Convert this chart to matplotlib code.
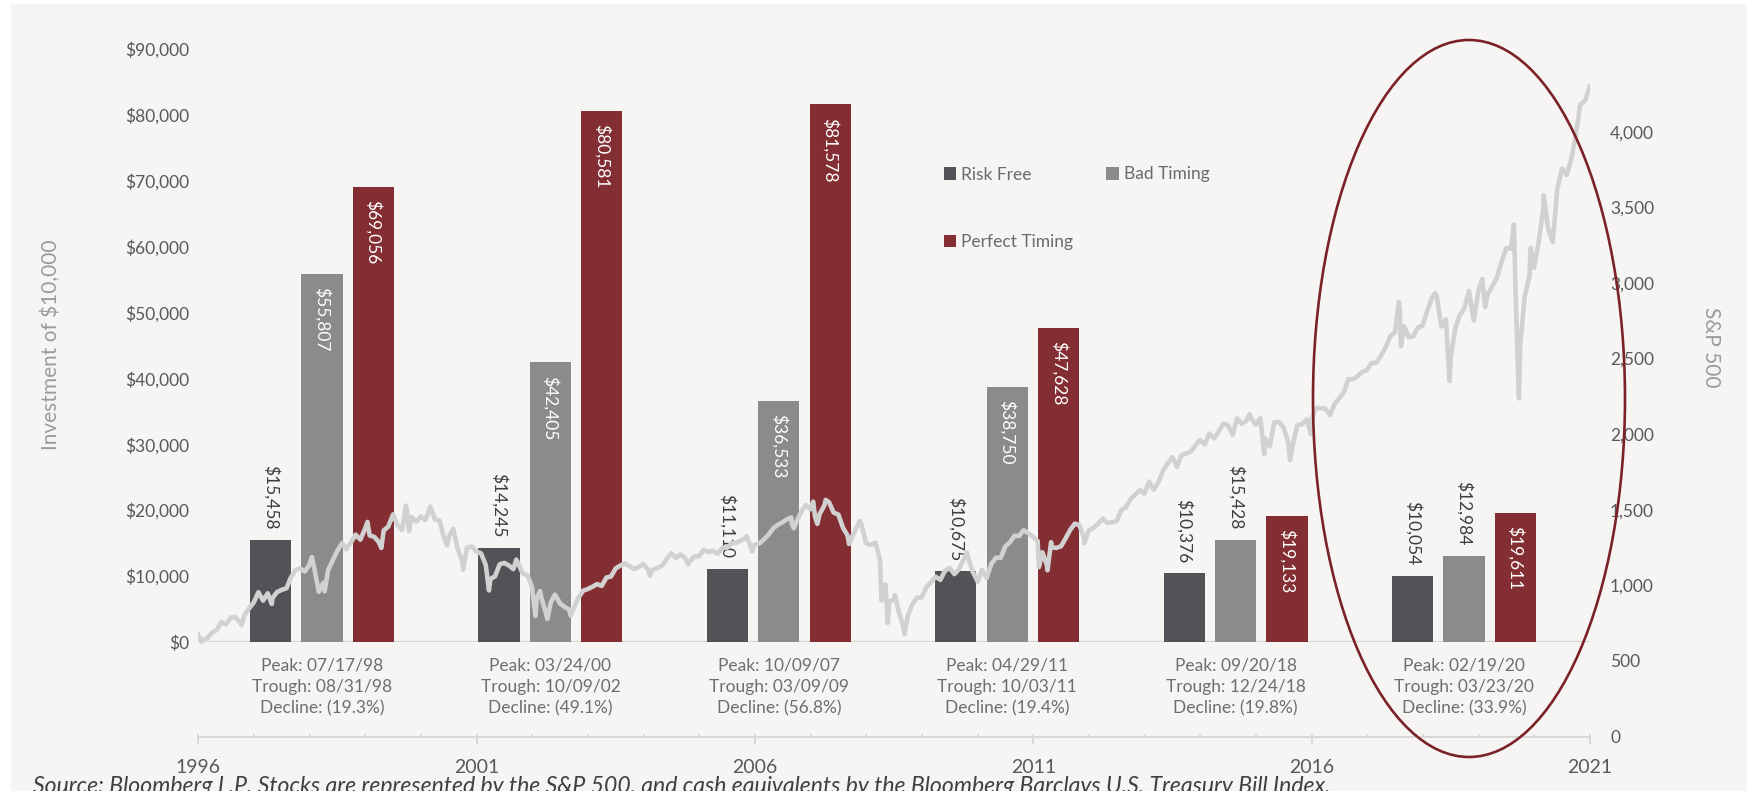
import matplotlib
matplotlib.use("Agg")
import matplotlib.pyplot as plt
import numpy as np
import pandas as pd
from matplotlib.patches import Rectangle, Ellipse, Patch
from matplotlib.ticker import FuncFormatter, FixedLocator

plt.rcParams['font.family'] = ['Lato', 'DejaVu Sans']

# ---------------- data ----------------
series_names = ["Risk Free", "Bad Timing", "Perfect Timing"]
risk_free = [15458, 14245, 11110, 10675, 10376, 10054]
bad_timing = [55807, 42405, 36533, 38750, 15428, 12984]
perfect_timing = [69056, 80581, 81578, 47628, 19133, 19611]
peaks = ["07/17/98", "03/24/00", "10/09/07", "04/29/11", "09/20/18", "02/19/20"]
troughs = ["08/31/98", "10/09/02", "03/09/09", "10/03/11", "12/24/18", "03/23/20"]
declines = ["19.3%", "49.1%", "56.8%", "19.4%", "19.8%", "33.9%"]
left_ticks = [0, 10000, 20000, 30000, 40000, 50000, 60000, 70000, 80000, 90000]
right_ticks = [0, 500, 1000, 1500, 2000, 2500, 3000, 3500, 4000]
year_labels = [1996, 2001, 2006, 2011, 2016, 2021]

# S&P 500 month-end closes, Jul 1996 - Jun 2021
sp_monthly = [
    640, 652, 687, 705, 757, 741,
    786, 791, 757, 801, 848, 885, 954, 899, 947, 915, 955, 970,
    980, 1049, 1102, 1112, 1091, 1134, 1121, 957, 1017, 1099, 1164, 1229,
    1280, 1238, 1286, 1335, 1302, 1373, 1329, 1320, 1283, 1363, 1389, 1469,
    1394, 1366, 1499, 1452, 1421, 1455, 1431, 1518, 1437, 1429, 1315, 1320,
    1366, 1240, 1160, 1249, 1256, 1224, 1211, 1134, 1041, 1060, 1139, 1148,
    1130, 1107, 1147, 1077, 1067, 990, 912, 916, 815, 886, 936, 880,
    856, 841, 848, 917, 964, 975, 990, 1008, 996, 1051, 1058, 1112,
    1131, 1145, 1126, 1107, 1121, 1141, 1102, 1104, 1115, 1130, 1174, 1212,
    1181, 1204, 1181, 1157, 1192, 1191, 1234, 1220, 1229, 1207, 1249, 1248,
    1280, 1281, 1295, 1311, 1270, 1270, 1277, 1304, 1336, 1378, 1401, 1418,
    1438, 1407, 1421, 1482, 1531, 1503, 1455, 1474, 1527, 1549, 1481, 1468,
    1379, 1331, 1323, 1386, 1400, 1280, 1267, 1283, 1165, 969, 896, 903,
    826, 735, 798, 873, 919, 919, 987, 1021, 1057, 1036, 1096, 1115,
    1074, 1104, 1169, 1187, 1089, 1031, 1102, 1049, 1141, 1183, 1181, 1258,
    1286, 1327, 1326, 1364, 1345, 1321, 1292, 1219, 1131, 1253, 1247, 1258,
    1312, 1366, 1408, 1398, 1310, 1362, 1379, 1407, 1441, 1412, 1416, 1426,
    1498, 1515, 1569, 1598, 1631, 1606, 1686, 1633, 1682, 1757, 1806, 1848,
    1783, 1859, 1872, 1884, 1924, 1960, 1931, 2003, 1972, 2018, 2068, 2059,
    1995, 2105, 2068, 2086, 2107, 2063, 2104, 1972, 1920, 2079, 2080, 2044,
    1940, 1932, 2060, 2065, 2097, 2099, 2174, 2171, 2168, 2126, 2199, 2239,
    2279, 2364, 2363, 2384, 2412, 2423, 2470, 2472, 2519, 2575, 2648, 2674,
    2824, 2714, 2641, 2648, 2705, 2718, 2816, 2902, 2914, 2712, 2760, 2507,
    2704, 2784, 2834, 2946, 2752, 2942, 2980, 2926, 2977, 3038, 3141, 3231,
    3226, 2954, 2585, 2912, 3044, 3100, 3271, 3500, 3363, 3270, 3622, 3756,
    3714, 3811, 3973, 4181, 4204, 4298,
]
sp_monthly_dates = pd.date_range("1996-07-31", periods=len(sp_monthly), freq="ME")

# intra-month highs/lows of the S&P 500
sp_extra_dates = [
    "1996-07-01", "1996-07-24", "1997-04-11", "1997-10-27", "1998-07-17", "1998-08-31",
    "1998-10-08", "1999-07-16", "1999-10-15", "2000-03-24", "2000-04-14", "2000-09-01",
    "2000-12-20", "2001-01-30", "2001-04-04", "2001-09-21", "2002-03-19", "2002-07-23",
    "2002-08-22", "2002-10-09", "2002-11-27", "2003-03-11", "2004-08-12", "2005-04-20",
    "2006-05-08", "2006-06-13", "2007-02-26", "2007-03-14", "2007-07-19", "2007-08-15",
    "2007-10-09", "2008-03-10", "2008-05-19", "2008-10-10", "2008-11-04", "2008-11-20",
    "2009-01-06", "2009-03-09", "2010-04-23", "2010-07-02", "2011-04-29", "2011-08-08",
    "2011-10-03", "2011-10-27", "2012-06-01", "2015-05-21", "2015-08-25", "2016-02-11",
    "2016-06-27", "2018-01-26", "2018-02-08", "2018-09-20", "2018-12-24", "2019-07-26",
    "2019-08-14", "2020-02-19", "2020-03-23", "2020-06-08", "2020-09-02", "2020-10-30",
]
sp_extra_values = [
    671, 627, 737, 877, 1187, 957,
    960, 1419, 1247, 1527, 1357, 1521,
    1264, 1374, 1103, 966, 1170, 797,
    962, 777, 938, 800, 1064, 1138,
    1325, 1223, 1449, 1377, 1553, 1406,
    1565, 1273, 1426, 899, 1005, 752,
    935, 677, 1217, 1023, 1364, 1120,
    1099, 1285, 1278, 2131, 1868, 1829,
    2001, 2873, 2581, 2931, 2351, 3026,
    2840, 3386, 2237, 3232, 3580, 3270,
]

# ---------------- style ----------------
BG = "#f6f5f3"
C_RF, C_BT, C_PT = "#525357", "#8c8b8c", "#832e33"
C_LINE = "#d2d1d1"
C_TXT = "#595959"
C_AX = "#d6d5d3"

W, H = 1747, 791
fig = plt.figure(figsize=(W / 100, H / 100), dpi=100, facecolor="white")
fig.patches.append(Rectangle((11 / W, 0), 1, 1 - 4 / H, transform=fig.transFigure,
                             facecolor=BG, edgecolor="none", zorder=-10))

x_left, x_right = 198.3, 1589.9
bar_bottom, top_px = 641.8, 49.0
line_bottom = 736.5
px_per_500 = 75.6

ax_bar = fig.add_axes([x_left / W, 1 - bar_bottom / H, (x_right - x_left) / W, (bar_bottom - top_px) / H])
ax_line = fig.add_axes([x_left / W, 1 - line_bottom / H, (x_right - x_left) / W, (line_bottom - top_px) / H])
ax_line.set_zorder(ax_bar.get_zorder() + 1)
for ax in (ax_bar, ax_line):
    ax.set_facecolor("none")
    for s in ax.spines.values():
        s.set_visible(False)

# ---------------- bars ----------------
n = len(peaks)
x = np.arange(n)
bw = 0.18
off = 0.225
group_px = 228.4
left_unit = -(322.0 - x_left) / group_px
ax_bar.set_xlim(left_unit, left_unit + (x_right - x_left) / group_px)
ax_bar.set_ylim(0, 90000)
ax_bar.axhline(0, color=C_AX, lw=1.6, zorder=1)

for k, (vals, col) in enumerate(zip([risk_free, bad_timing, perfect_timing], [C_RF, C_BT, C_PT])):
    xs = x + (k - 1) * off
    ax_bar.bar(xs, vals, width=bw, color=col, edgecolor="none", zorder=2)
    for xi, v in zip(xs, vals):
        lab = "${:,}".format(v)
        if k > 0 and v >= 19000:
            ax_bar.annotate(lab, (xi, v), xytext=(0, -9.5), textcoords="offset points",
                            rotation=-90, ha="center", va="top", color="white",
                            fontsize=12.5, zorder=5)
        else:
            ax_bar.annotate(lab, (xi, v), xytext=(0, 7.5), textcoords="offset points",
                            rotation=-90, ha="center", va="bottom", color="#3c3c3c",
                            fontsize=12.5, zorder=5)

for i in range(n):
    txt = "Peak: {}\nTrough: {}\nDecline: ({})".format(peaks[i], troughs[i], declines[i])
    ax_bar.annotate(txt, (x[i], 0), xytext=(0, -32.5), textcoords="offset points",
                    ha="center", va="center", fontsize=12.5, color="#6e6e6e",
                    linespacing=1.4)

ax_bar.set_xticks([])
ax_bar.set_yticks(left_ticks)
ax_bar.yaxis.set_major_formatter(FuncFormatter(lambda v, p: "${:,.0f}".format(v)))
ax_bar.tick_params(axis="y", length=0, pad=6.5, labelsize=12.5, labelcolor=C_TXT)

# legend
handles = [Patch(facecolor=C_RF), Patch(facecolor=C_PT), Patch(facecolor=C_BT)]
labels = ["Risk Free", "Perfect Timing", "Bad Timing"]
fig.legend(handles, labels, ncol=2, loc="upper left",
           bbox_to_anchor=(944 / W, 1 - 166.5 / H), frameon=False,
           fontsize=12.5, labelcolor="#6a6a6a", handlelength=0.7, handleheight=0.7,
           handletextpad=0.3, columnspacing=1.9, labelspacing=2.95, borderpad=0,
           borderaxespad=0)

# ---------------- S&P 500 line ----------------
start = 1996.5
def dec_year(ts):
    ts = pd.Timestamp(ts)
    return ts.year + (ts.dayofyear - 0.5) / (366 if ts.is_leap_year else 365)

sp_df = pd.DataFrame({
    "t": [dec_year(d) for d in sp_monthly_dates] + [dec_year(d) for d in sp_extra_dates],
    "v": sp_monthly + sp_extra_values,
}).sort_values("t")
ax_line.plot(sp_df["t"], sp_df["v"], color=C_LINE, lw=3.3, solid_joinstyle="round", zorder=3)
ax_line.set_xlim(start, start + 25)
ax_line.set_ylim(0, (line_bottom - top_px) / px_per_500 * 500)

ax_line.spines["bottom"].set_visible(True)
ax_line.spines["bottom"].set_color(C_AX)
ax_line.spines["bottom"].set_linewidth(1.3)
ax_line.xaxis.set_major_locator(FixedLocator([start + (y - 1996) for y in year_labels]))
ax_line.set_xticklabels([str(y) for y in year_labels])
ax_line.xaxis.set_minor_locator(FixedLocator([start + k for k in range(26)]))
ax_line.xaxis.remove_overlapping_locs = False
ax_line.tick_params(axis="x", which="major", direction="out", length=5, width=1.3,
                    color=C_AX, pad=11.5, labelsize=14, labelcolor=C_TXT)
ax_line.tick_params(axis="x", which="minor", direction="in", length=2.5, width=1.1, color=C_AX)

ax_line.yaxis.tick_right()
ax_line.set_yticks(right_ticks)
ax_line.yaxis.set_major_formatter(FuncFormatter(lambda v, p: "{:,.0f}".format(v)))
ax_line.tick_params(axis="y", length=0, pad=14.5, labelsize=12.5, labelcolor=C_TXT)

# ---------------- axis titles / notes ----------------
fig.text(51 / W, 1 - 345 / H, "Investment of $10,000", rotation=90, ha="center", va="center",
         fontsize=15, color="#9b9b9b")
fig.text(1711 / W, 1 - 347 / H, "S&P 500", rotation=-90, ha="center", va="center",
         fontsize=15, color="#9b9b9b")
fig.text(33 / W, 1 - 776 / H,
         "Source: Bloomberg L.P. Stocks are represented by the S&P 500, and cash equivalents by the Bloomberg Barclays U.S. Treasury Bill Index.",
         ha="left", va="top", fontsize=16.6, style="italic", color="#404040")

# highlight ellipse
fig.patches.append(Ellipse((1469 / W, 1 - 398.5 / H), 312 / W, 717 / H, transform=fig.transFigure,
                           facecolor="none", edgecolor="#7b2228", lw=1.9, zorder=20))

fig.savefig("out.png", dpi=100, facecolor=fig.get_facecolor())
